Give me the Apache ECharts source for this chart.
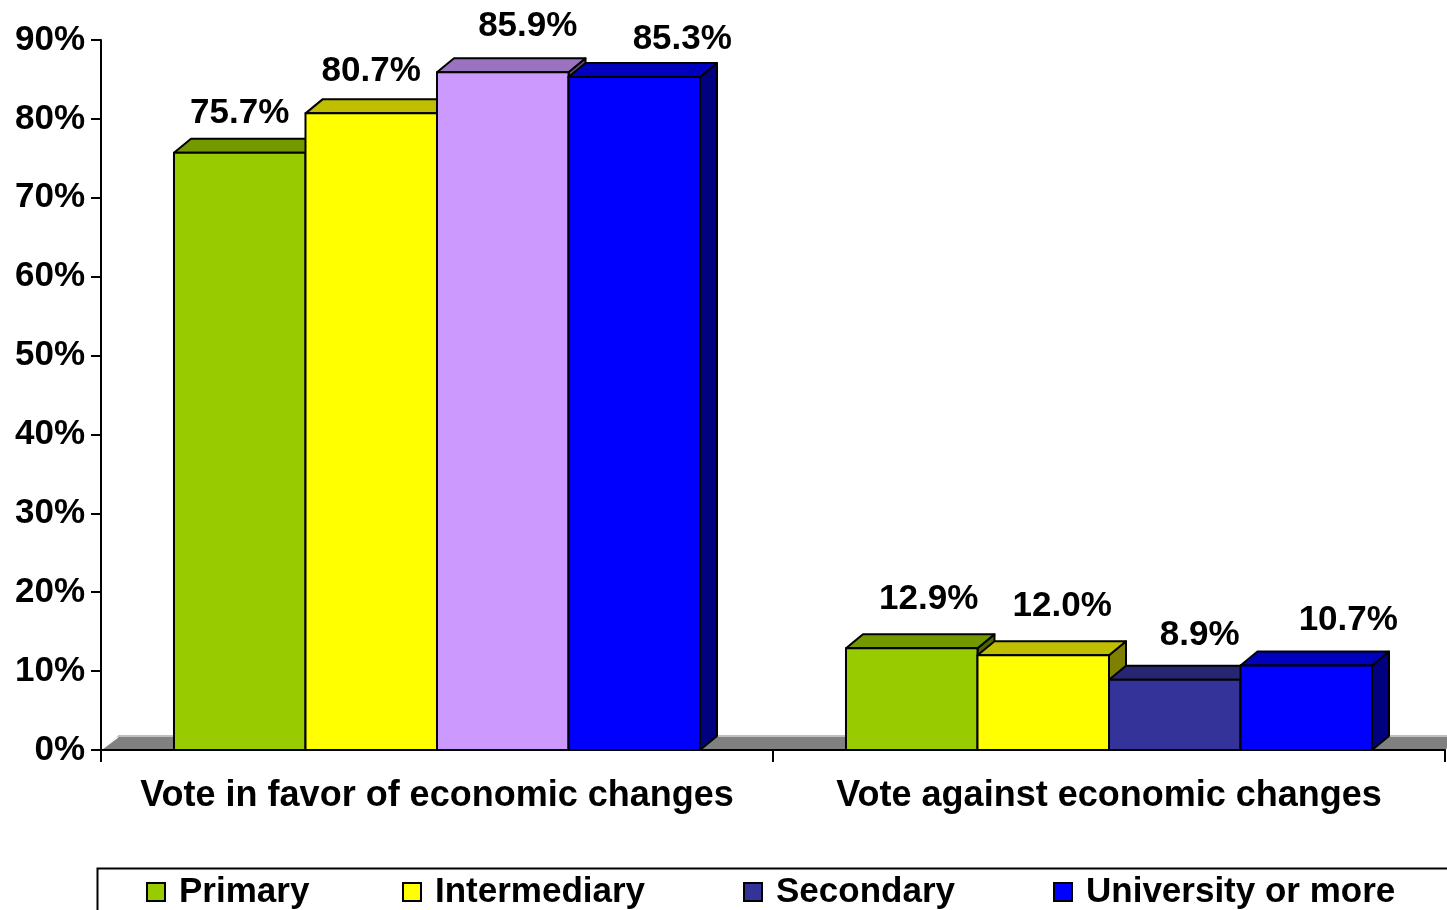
<!DOCTYPE html>
<html>
<head>
<meta charset="utf-8">
<script src="https://cdn.jsdelivr.net/npm/echarts@6/dist/echarts.min.js"></script>
<style>
html,body{margin:0;padding:0;background:#fff;}
#chart{width:1447px;height:910px;}
</style>
</head>
<body>
<div id="chart"></div>
<script>
// ---- data ----
const categories = ['Vote in favor of economic changes', 'Vote against economic changes'];
const seriesNames = ['Primary', 'Intermediary', 'Secondary', 'University or more'];
const primary = [75.7, 12.9];
const intermediary = [80.7, 12.0];
const secondary = [85.9, 8.9];
const university = [85.3, 10.7];
const yTicks = [0, 10, 20, 30, 40, 50, 60, 70, 80, 90];

// ---- styling / layout ----
const FONT = '"Liberation Sans", Arial, sans-serif';
const seriesColors = [
  ['#99CC00', '#99CC00'],
  ['#FFFF00', '#FFFF00'],
  ['#CC99FF', '#333399'],
  ['#0000FF', '#0000FF']
];
const legendColors = ['#99CC00', '#FFFF00', '#333399', '#0000FF'];
const BAR_RATIO = 0.1957;
const DX = 17, DY = 14;
// manual label nudges (layout only): [dx from bar front centre, height above front top]
const labelNudge = [
  [[0, 39], [17, 49]],
  [[0, 42], [19, 49]],
  [[25, 46], [25, 44]],
  [[48, 38], [42, 45]]
];

function shade(hex, f) {
  const n = parseInt(hex.slice(1), 16);
  const r = Math.round(((n >> 16) & 255) * f);
  const g = Math.round(((n >> 8) & 255) * f);
  const b = Math.round((n & 255) * f);
  return 'rgb(' + r + ',' + g + ',' + b + ')';
}

function makeRender(si) {
  return function (params, api) {
    const cat = api.value(0);
    const v = api.value(1);
    const base = api.coord([cat, 0]);
    const top = api.coord([cat, v]);
    const band = api.size([1, 0])[0];
    const bw = band * BAR_RATIO;
    const x0 = base[0] - 2 * bw + si * bw;
    const x1 = x0 + bw;
    const yb = base[1], yt = top[1];
    const c = seriesColors[si][cat];
    const stroke = { stroke: '#000', lineWidth: 2, lineJoin: 'round' };
    const nud = labelNudge[si][cat];
    return {
      type: 'group',
      children: [
        { type: 'polygon', shape: { points: [[x1, yt], [x1 + DX, yt - DY], [x1 + DX, yb - DY], [x1, yb]] },
          style: Object.assign({ fill: shade(c, 0.5) }, stroke) },
        { type: 'polygon', shape: { points: [[x0, yt], [x0 + DX, yt - DY], [x1 + DX, yt - DY], [x1, yt]] },
          style: Object.assign({ fill: shade(c, 0.75) }, stroke) },
        { type: 'rect', shape: { x: x0, y: yt, width: bw, height: yb - yt },
          style: Object.assign({ fill: c }, stroke) },
        { type: 'text', x: (x0 + x1) / 2 + nud[0], y: yt - nud[1],
          style: { text: v.toFixed(1) + '%', textAlign: 'center', textVerticalAlign: 'middle',
                   font: 'bold 35px ' + FONT, fill: '#000' } }
      ]
    };
  };
}

const dataSets = [primary, intermediary, secondary, university];

const series = [{
  type: 'custom',
  name: 'floor',
  silent: true,
  clip: false,
  data: [[0, 0]],
  renderItem: function (params, api) {
    const cs = params.coordSys;
    const yb = cs.y + cs.height;
    const xl = cs.x, xr = cs.x + cs.width;
    return {
      type: 'group',
      children: [
        { type: 'polygon', shape: { points: [[xl, yb], [xl + DX, yb - DY], [xr + DX, yb - DY], [xr, yb]] },
          style: { fill: '#808080', stroke: null } },
        { type: 'line', shape: { x1: xl + DX, y1: yb - DY, x2: xr + DX, y2: yb - DY },
          style: { stroke: '#C0C0C0', lineWidth: 2 } },
        { type: 'line', shape: { x1: xl + 1, y1: yb - 1, x2: xl + DX, y2: yb - DY + 1 },
          style: { stroke: '#FFFFFF', lineWidth: 1.5 } }
      ]
    };
  }
}];

seriesNames.forEach(function (name, si) {
  series.push({
    type: 'custom',
    name: name,
    clip: false,
    itemStyle: { color: legendColors[si], borderColor: '#000', borderWidth: 2 },
    encode: { x: 0, y: 1 },
    data: dataSets[si].map(function (v, i) { return [i, v]; }),
    renderItem: makeRender(si)
  });
});

const legendLefts = [146, 402, 743, 1053];
const legends = seriesNames.map(function (name, i) {
  return {
    data: [name],
    left: legendLefts[i],
    top: 874,
    padding: 0,
    itemWidth: 18,
    itemHeight: 18,
    icon: 'rect',
    itemStyle: { borderColor: '#000', borderWidth: 2 },
    textStyle: { fontFamily: FONT, fontWeight: 'bold', fontSize: 35, color: '#000', lineHeight: 36, padding: [0, 0, 0, 9] },
    selectedMode: false
  };
});

const chart = echarts.init(document.getElementById('chart'), null, { renderer: 'canvas' });
chart.setOption({
  backgroundColor: '#fff',
  animation: false,
  grid: { left: 101, right: 2, top: 40, bottom: 160, containLabel: false },
  graphic: [{
    type: 'rect', left: 95, top: 866, shape: { width: 1400, height: 100 },
    style: { fill: 'none', stroke: '#000', lineWidth: 2 }, z: -1
  }],
  legend: legends,
  xAxis: {
    type: 'category',
    data: categories,
    z: 10,
    axisLine: { show: true, lineStyle: { color: '#000', width: 2 } },
    axisTick: { show: true, interval: 0, length: 12, lineStyle: { color: '#000', width: 2 } },
    axisLabel: { interval: 0, fontFamily: FONT, fontWeight: 'bold', fontSize: 36, color: '#000', margin: 28 },
    splitLine: { show: false }
  },
  yAxis: {
    type: 'value',
    min: yTicks[0],
    max: yTicks[yTicks.length - 1],
    interval: 10,
    z: 10,
    axisLine: { show: true, lineStyle: { color: '#000', width: 2 } },
    axisTick: { show: true, length: 10, lineStyle: { color: '#000', width: 2 } },
    axisLabel: { formatter: '{value}%', fontFamily: FONT, fontWeight: 'bold', fontSize: 35, color: '#000', margin: 16 },
    splitLine: { show: false }
  },
  series: series
});
</script>
</body>
</html>
